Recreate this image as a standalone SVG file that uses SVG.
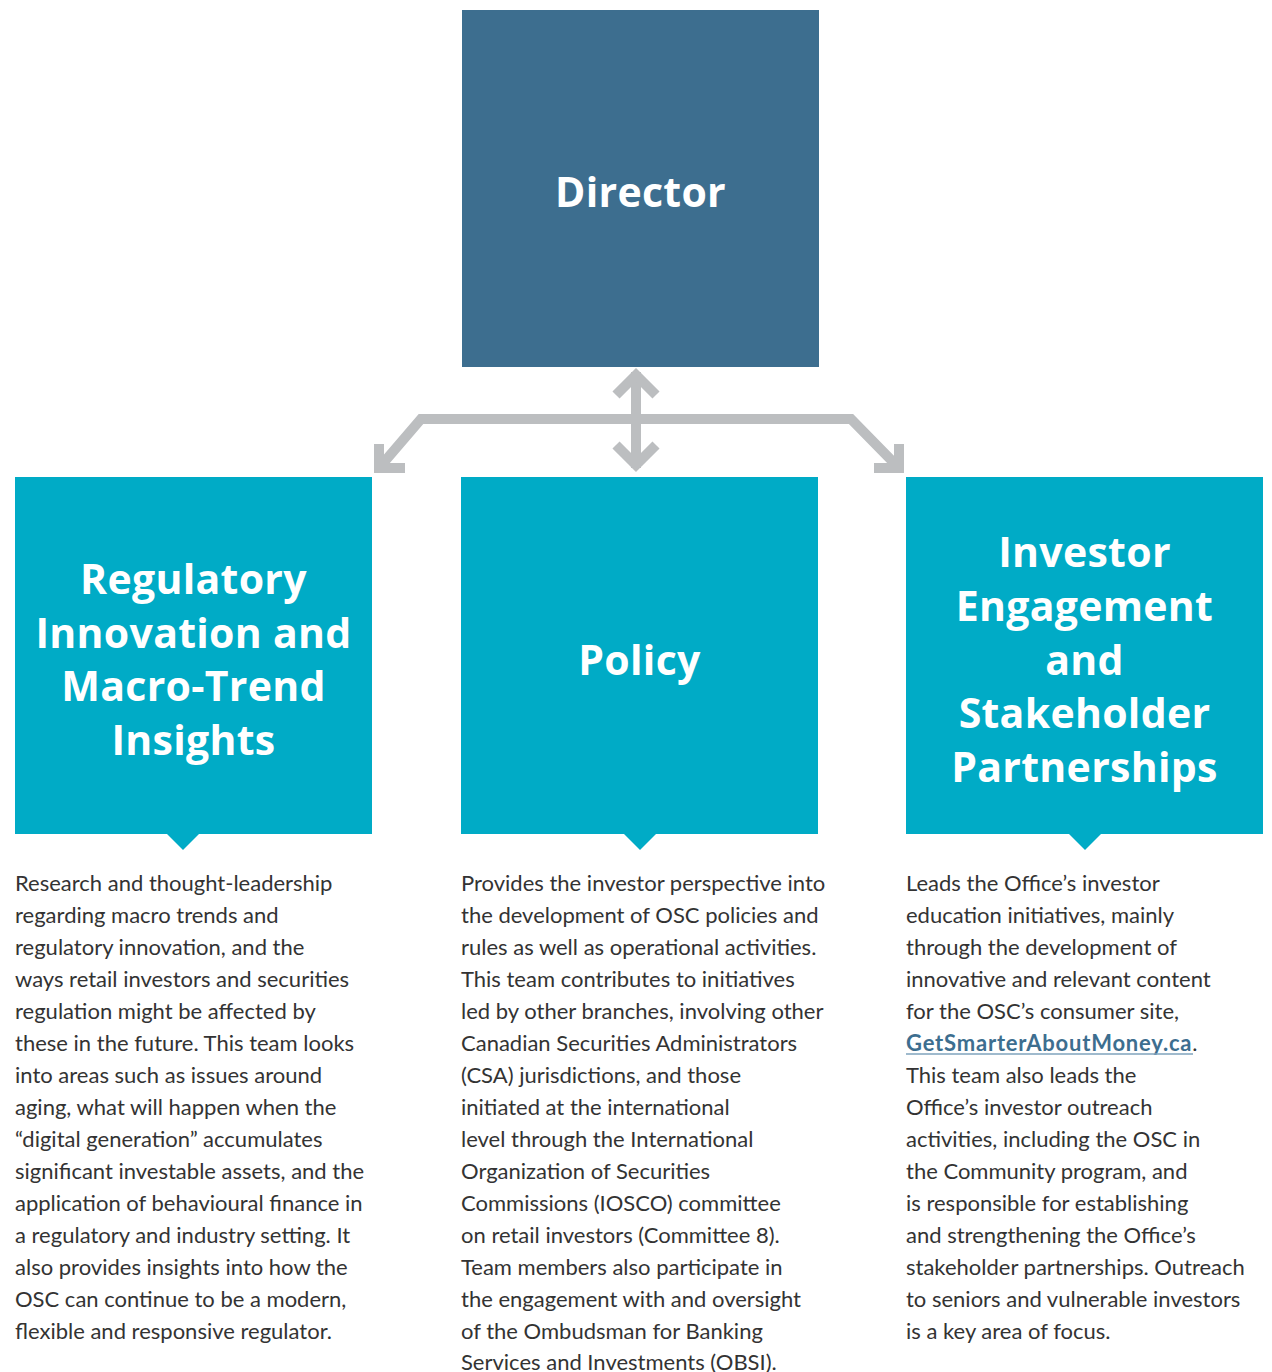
<svg xmlns="http://www.w3.org/2000/svg" width="1272" height="1372" viewBox="0 0 1272 1372">
<style>
.teal{fill:#00abc6}
.dir{fill:#3d6e8f}
.head{font-family:"Open Sans",Lato,"Liberation Sans",sans-serif;font-weight:700;fill:#ffffff;text-anchor:middle;font-size:41px;letter-spacing:0.3px}
.body{font-family:Lato,"Open Sans","Liberation Sans",sans-serif;font-weight:400;fill:#333333;font-size:22px}
.conn{fill:none;stroke:#bcbec0;stroke-width:10;stroke-linejoin:miter;stroke-linecap:butt}
.link{font-weight:700;fill:#3d6e8f;letter-spacing:0.8px}
</style>
<rect width="1272" height="1372" fill="#ffffff"/>
<g id="connectors">
<polyline class="conn" points="379,468 421,419 851,419 899,468"/>
<line class="conn" x1="636" y1="372" x2="636" y2="468"/>
<polyline class="conn" points="616,395 636,375 656,395"/>
<polyline class="conn" points="616,445 636,465 656,445"/>
<polyline class="conn" points="379,444 379,468 405,468"/>
<polyline class="conn" points="874,468 899,468 899,444"/>
</g>
<g id="director">
<rect class="dir" x="462" y="10" width="357" height="357"/>
<text class="head" x="640.5" y="207">Director</text>
</g>
<g id="regulatory">
<rect class="teal" x="15" y="477" width="357" height="357"/>
<polygon class="teal" points="166,833 200,833 183,850"/>
<text class="head" x="193.5"><tspan x="193.5" y="594">Regulatory</tspan><tspan x="193.5" y="648">Innovation and</tspan><tspan x="193.5" y="701">Macro-Trend</tspan><tspan x="193.5" y="755">Insights</tspan></text>
<text class="body" x="15"><tspan x="15" y="891">Research and thought-leadership</tspan><tspan x="15" y="923">regarding macro trends and</tspan><tspan x="15" y="955">regulatory innovation, and the</tspan><tspan x="15" y="987">ways retail investors and securities</tspan><tspan x="15" y="1019">regulation might be affected by</tspan><tspan x="15" y="1051">these in the future. This team looks</tspan><tspan x="15" y="1083">into areas such as issues around</tspan><tspan x="15" y="1115">aging, what will happen when the</tspan><tspan x="15" y="1147">“digital generation” accumulates</tspan><tspan x="15" y="1179">significant investable assets, and the</tspan><tspan x="15" y="1211">application of behavioural finance in</tspan><tspan x="15" y="1243">a regulatory and industry setting. It</tspan><tspan x="15" y="1275">also provides insights into how the</tspan><tspan x="15" y="1307">OSC can continue to be a modern,</tspan><tspan x="15" y="1339">flexible and responsive regulator.</tspan></text>
</g>
<g id="policy">
<rect class="teal" x="461" y="477" width="357" height="357"/>
<polygon class="teal" points="623,833 657,833 640,850"/>
<text class="head" x="639.5" y="675">Policy</text>
<text class="body" x="461"><tspan x="461" y="891">Provides the investor perspective into</tspan><tspan x="461" y="923">the development of OSC policies and</tspan><tspan x="461" y="955">rules as well as operational activities.</tspan><tspan x="461" y="987">This team contributes to initiatives</tspan><tspan x="461" y="1019">led by other branches, involving other</tspan><tspan x="461" y="1051">Canadian Securities Administrators</tspan><tspan x="461" y="1083">(CSA) jurisdictions, and those</tspan><tspan x="461" y="1115">initiated at the international</tspan><tspan x="461" y="1147">level through the International</tspan><tspan x="461" y="1179">Organization of Securities</tspan><tspan x="461" y="1211">Commissions (IOSCO) committee</tspan><tspan x="461" y="1243">on retail investors (Committee 8).</tspan><tspan x="461" y="1275">Team members also participate in</tspan><tspan x="461" y="1307">the engagement with and oversight</tspan><tspan x="461" y="1339">of the Ombudsman for Banking</tspan><tspan x="461" y="1370">Services and Investments (OBSI).</tspan></text>
</g>
<g id="investor">
<rect class="teal" x="906" y="477" width="357" height="357"/>
<polygon class="teal" points="1068,833 1102,833 1085,850"/>
<text class="head" x="1084.5"><tspan x="1084.5" y="567">Investor</tspan><tspan x="1084.5" y="621">Engagement</tspan><tspan x="1084.5" y="675">and</tspan><tspan x="1084.5" y="728">Stakeholder</tspan><tspan x="1084.5" y="782">Partnerships</tspan></text>
<text class="body" x="906"><tspan x="906" y="891">Leads the Office’s investor</tspan><tspan x="906" y="923">education initiatives, mainly</tspan><tspan x="906" y="955">through the development of</tspan><tspan x="906" y="987">innovative and relevant content</tspan><tspan x="906" y="1019">for the OSC’s consumer site,</tspan><tspan x="906" y="1051"><tspan class="link">GetSmarterAboutMoney.ca</tspan>.</tspan><tspan x="906" y="1083">This team also leads the</tspan><tspan x="906" y="1115">Office’s investor outreach</tspan><tspan x="906" y="1147">activities, including the OSC in</tspan><tspan x="906" y="1179">the Community program, and</tspan><tspan x="906" y="1211">is responsible for establishing</tspan><tspan x="906" y="1243">and strengthening the Office’s</tspan><tspan x="906" y="1275">stakeholder partnerships. Outreach</tspan><tspan x="906" y="1307">to seniors and vulnerable investors</tspan><tspan x="906" y="1339">is a key area of focus.</tspan></text>
<line x1="906" y1="1054" x2="1193" y2="1054" stroke="#7fa3bd" stroke-width="1.5"/>
</g>
</svg>
